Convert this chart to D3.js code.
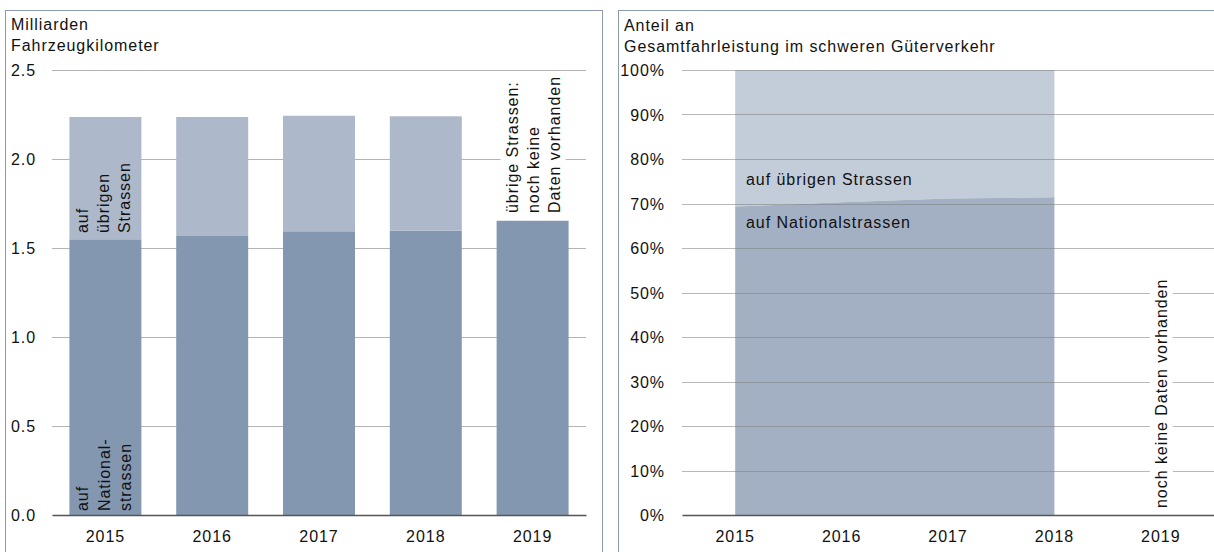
<!DOCTYPE html>
<html><head><meta charset="utf-8">
<script src="https://cdn.jsdelivr.net/npm/d3@7/dist/d3.min.js"></script>
<style>
body{margin:0;background:#fff;}
svg text{font-family:Arial,"Liberation Sans",sans-serif;font-size:16px;letter-spacing:0.95px;fill:#111;}
</style>
</head><body>
<svg id="c" width="1214" height="552"></svg>
<script>
// ---- data ----
const years = ["2015","2016","2017","2018","2019"];
const nationalKm = [1.549, 1.571, 1.594, 1.597, 1.653];   // Mrd. Fzkm auf Nationalstrassen
const otherKm    = [0.687, 0.665, 0.649, 0.643, null];    // Mrd. Fzkm auf übrigen Strassen
const leftTicks  = [0, 0.5, 1.0, 1.5, 2.0, 2.5];
const shareYears = ["2015","2016","2017","2018"];
const shareNational = [0.693, 0.703, 0.711, 0.714];         // Anteil Nationalstrassen
const rightTicks = [0,0.1,0.2,0.3,0.4,0.5,0.6,0.7,0.8,0.9,1.0];

const cDark = "#8497b0", cLight = "#adb9cb";
const aDark = "#a3b0c3", aLight = "#c3cdd9";
const gridC = "#b4b4b4", borderC = "#8c9bb0", axisC = "#555";

const svg = d3.select("#c");

// panel borders
svg.append("rect").attr("x",5.5).attr("y",10.5).attr("width",597).attr("height",600)
  .attr("fill","none").attr("stroke",borderC);
svg.append("rect").attr("x",618.5).attr("y",10.5).attr("width",640).attr("height",600)
  .attr("fill","none").attr("stroke",borderC);

// ================= LEFT PANEL =================
const xL = d3.scaleBand().domain(years).range([52,586]).paddingInner(0.326).paddingOuter(0.163);
const yL = d3.scaleLinear().domain([0,2.5]).range([515,70]);

const L = svg.append("g");
L.append("text").attr("x",11).attr("y",29.5).text("Milliarden");
L.append("text").attr("x",11).attr("y",50.5).text("Fahrzeugkilometer");

// grid
L.append("g").selectAll("line").data(leftTicks.filter(d=>d>0)).join("line")
  .attr("x1",52).attr("x2",586).attr("y1",d=>Math.round(yL(d))+0.5).attr("y2",d=>Math.round(yL(d))+0.5)
  .attr("stroke",gridC);

// y tick labels via axis
const axL = L.append("g").attr("transform","translate(36,0)")
  .call(d3.axisLeft(yL).tickValues(leftTicks).tickFormat(d3.format(".1f")).tickSize(0).tickPadding(0));
axL.select(".domain").remove();
axL.selectAll("text").attr("font-size",null).attr("font-family",null).style("fill","#111").attr("dy","0.36em");

// bars
const barData = years.map((y,i)=>({y, n:nationalKm[i], o:otherKm[i]}));
L.append("g").selectAll("rect").data(barData).join("rect")
  .attr("x",d=>xL(d.y)).attr("width",xL.bandwidth())
  .attr("y",d=>yL(d.n)).attr("height",d=>yL(0)-yL(d.n)).attr("fill",cDark);
L.append("g").selectAll("rect").data(barData.filter(d=>d.o!=null)).join("rect")
  .attr("x",d=>xL(d.y)).attr("width",xL.bandwidth())
  .attr("y",d=>yL(d.n+d.o)).attr("height",d=>yL(d.n)-yL(d.n+d.o)).attr("fill",cLight);

// x axis
const xaL = L.append("g").attr("transform","translate(0,515)")
  .call(d3.axisBottom(xL).tickSize(0).tickPadding(0));
xaL.select(".domain").attr("stroke",axisC).attr("stroke-width",1.3);
xaL.selectAll("text").attr("font-size",null).attr("font-family",null).style("fill","#111").attr("y",27).attr("dy",0);

// rotated labels
function rotLabel(g, x, y, lines, lh, bg){
  const grp = g.append("g").attr("transform",`translate(${x},${y}) rotate(-90)`);
  const r = bg ? grp.append("rect").attr("fill","#fff") : null;
  const t = grp.append("text");
  lines.forEach((s,i)=>t.append("tspan").attr("x",0).attr("y",i*lh).text(s));
  if(bg){ const b=t.node().getBBox(); r.attr("x",b.x-3).attr("y",b.y-3).attr("width",b.width+6).attr("height",b.height+6); }
}
rotLabel(L, 88, 233, ["auf","übrigen","Strassen"], 21);
rotLabel(L, 88, 511, ["auf","National-","strassen"], 21.5);
rotLabel(L, xL("2019")+21, 213, ["übrige Strassen:","noch keine","Daten vorhanden"], 21, true);

// ================= RIGHT PANEL =================
const xR = d3.scaleBand().domain(years).range([682,1214]);
const xRc = d => xR(d)+xR.bandwidth()/2;
const yR = d3.scaleLinear().domain([0,1]).range([515,70]);

const R = svg.append("g");
R.append("text").attr("x",624).attr("y",31).text("Anteil an");
R.append("text").attr("x",624).attr("y",51.5).text("Gesamtfahrleistung im schweren Güterverkehr");

const sd = shareYears.map((y,i)=>({y, s:shareNational[i]}));
R.append("path").datum(sd).attr("fill",aLight)
  .attr("d", d3.area().x(d=>xRc(d.y)).y0(d=>yR(d.s)).y1(yR(1)));
R.append("path").datum(sd).attr("fill",aDark)
  .attr("d", d3.area().x(d=>xRc(d.y)).y0(yR(0)).y1(d=>yR(d.s)));

// grid on top
R.append("g").selectAll("line").data(rightTicks.filter(d=>d>0)).join("line")
  .attr("x1",682).attr("x2",1214).attr("y1",d=>Math.round(yR(d))+0.5).attr("y2",d=>Math.round(yR(d))+0.5)
  .attr("stroke","#808080").attr("stroke-opacity",0.55);

const axR = R.append("g").attr("transform","translate(665,0)")
  .call(d3.axisLeft(yR).tickValues(rightTicks).tickFormat(d3.format(".0%")).tickSize(0).tickPadding(0));
axR.select(".domain").remove();
axR.selectAll("text").attr("font-size",null).attr("font-family",null).style("fill","#111").attr("dy","0.36em");

const xaR = R.append("g").attr("transform","translate(0,515)")
  .call(d3.axisBottom(xR).tickSize(0).tickPadding(0));
xaR.select(".domain").attr("stroke",axisC).attr("stroke-width",1.3);
xaR.selectAll("text").attr("font-size",null).attr("font-family",null).style("fill","#111").attr("y",27).attr("dy",0);

R.append("text").attr("x",746).attr("y",185).text("auf übrigen Strassen");
R.append("text").attr("x",746).attr("y",228).text("auf Nationalstrassen");
rotLabel(R, xRc("2019")+6, 508, ["noch keine Daten vorhanden"], 21, true);
</script>
</body></html>
